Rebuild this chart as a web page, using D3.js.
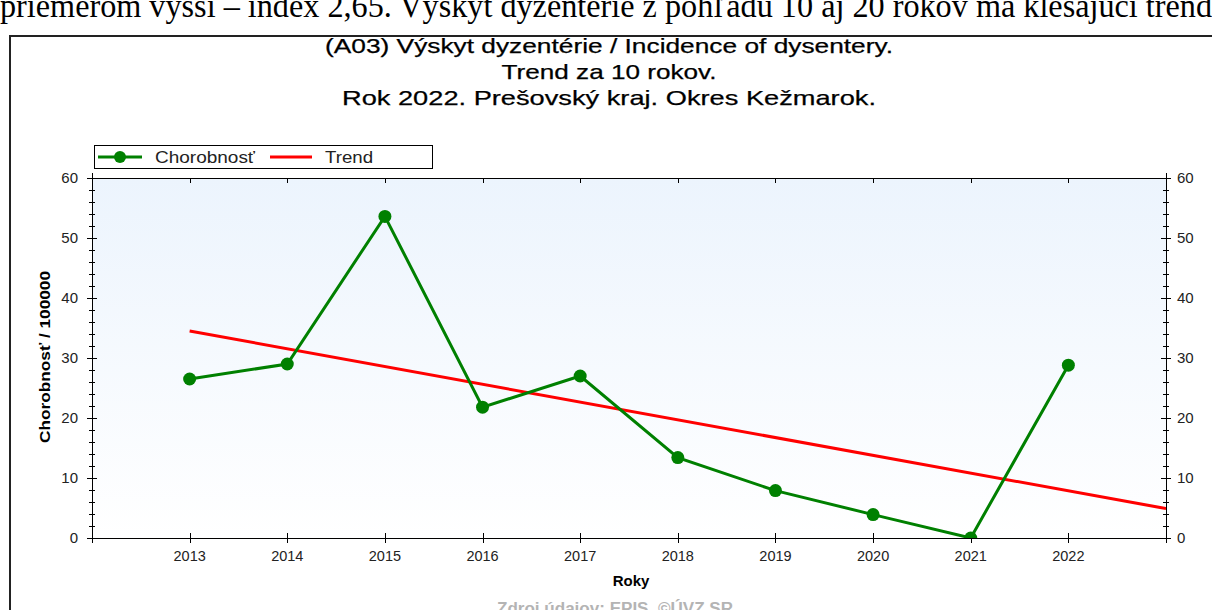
<!DOCTYPE html>
<html><head><meta charset="utf-8">
<script src="https://cdn.jsdelivr.net/npm/d3@7"></script>
<style>
html,body{margin:0;padding:0;background:#fff;overflow:hidden;}
svg{display:block;}
</style></head>
<body>
<script>
const years = [2013, 2014, 2015, 2016, 2017, 2018, 2019, 2020, 2021, 2022];
const incidence = [26.5, 29.0, 53.6, 21.8, 27.0, 13.4, 7.9, 3.9, 0, 28.8];
const trendYears = [2013, 2023];
const trendValues = [34.5, 4.9];
const yTicks = [0, 10, 20, 30, 40, 50, 60];
const titleLines = ["(A03) Výskyt dyzentérie / Incidence of dysentery.", "Trend za 10 rokov.", "Rok 2022. Prešovský kraj. Okres Kežmarok."];
const legendLabels = ["Chorobnosť", "Trend"];

const W = 1212, H = 610;
const svg = d3.select("body").append("svg").attr("width", W).attr("height", H);
const font = "Liberation Sans, Arial, sans-serif";
const titleWidths = [568, 215, 534];

// clipped text of surrounding document
svg.append("text").attr("x", 0).attr("y", 17)
  .attr("font-family", "Liberation Serif, Times New Roman, serif").attr("font-size", 34)
  .attr("textLength", 1212).attr("lengthAdjust", "spacingAndGlyphs")
  .text("priemerom vyšší – index 2,65. Výskyt dyzentérie z pohľadu 10 aj 20 rokov má klesajúci trend");

// frame
svg.append("path").attr("d", "M10,620 L10,36 L1220,36").attr("fill", "none").attr("stroke", "#222").attr("stroke-width", 2);

const L = 92, R = 1166, T = 178, B = 538;
const x = d3.scaleLinear().domain([2012, 2023]).range([L, R]);
const y = d3.scaleLinear().domain([0, 60]).range([B, T]);

const defs = svg.append("defs");
const grad = defs.append("linearGradient").attr("id", "bg").attr("x1", 0).attr("y1", 0).attr("x2", 0).attr("y2", 1);
grad.append("stop").attr("offset", "0%").attr("stop-color", "#ecf4fd");
grad.append("stop").attr("offset", "100%").attr("stop-color", "#ffffff");
defs.append("clipPath").attr("id", "clip").append("rect").attr("x", L).attr("y", T).attr("width", R - L).attr("height", B - T);

svg.append("rect").attr("x", L).attr("y", T).attr("width", R - L).attr("height", B - T).attr("fill", "url(#bg)");

// title
svg.append("g").selectAll("text").data(titleLines).join("text")
  .attr("x", 609).attr("y", (d, i) => 53 + i * 26)
  .attr("text-anchor", "middle").attr("font-family", font).attr("font-size", 21)
  .attr("textLength", (d, i) => titleWidths[i]).attr("lengthAdjust", "spacingAndGlyphs")
  .attr("fill", "#000").attr("stroke", "#000").attr("stroke-width", 0.25).text(d => d);

// axes
const minor = d3.range(0, 61, 2);
const axisG = svg.append("g").attr("stroke", "#000").attr("stroke-width", 1);
// left
axisG.append("line").attr("x1", L + 0.5).attr("x2", L + 0.5).attr("y1", T - 5).attr("y2", B + 5);
axisG.selectAll(".lm").data(minor).join("line")
  .attr("x1", d => yTicks.includes(d) ? L - 5 : L - 3).attr("x2", d => yTicks.includes(d) ? L + 5 : L + 3)
  .attr("y1", d => Math.round(y(d)) + 0.5).attr("y2", d => Math.round(y(d)) + 0.5);
// right
axisG.append("line").attr("x1", R + 0.5).attr("x2", R + 0.5).attr("y1", T - 5).attr("y2", B + 5);
axisG.selectAll(".rm").data(minor).join("line")
  .attr("x1", d => yTicks.includes(d) ? R - 5 : R - 3).attr("x2", d => yTicks.includes(d) ? R + 5 : R + 3)
  .attr("y1", d => Math.round(y(d)) + 0.5).attr("y2", d => Math.round(y(d)) + 0.5);
// bottom
const xt = d3.range(2012, 2024);
axisG.append("line").attr("x1", L - 5).attr("x2", R + 5).attr("y1", B + 0.5).attr("y2", B + 0.5);
axisG.selectAll(".bt").data(xt).join("line")
  .attr("x1", d => Math.round(x(d)) + 0.5).attr("x2", d => Math.round(x(d)) + 0.5)
  .attr("y1", B - 5).attr("y2", B + 5);
// top
axisG.append("line").attr("x1", L - 5).attr("x2", R + 5).attr("y1", T + 0.5).attr("y2", T + 0.5);
axisG.selectAll(".tt").data(xt).join("line")
  .attr("x1", d => Math.round(x(d)) + 0.5).attr("x2", d => Math.round(x(d)) + 0.5)
  .attr("y1", T).attr("y2", T + 5);

// tick labels
svg.append("g").selectAll("text").data(yTicks).join("text")
  .attr("x", L - 14).attr("y", d => y(d) + 5).attr("text-anchor", "end")
  .attr("font-family", font).attr("font-size", 15).attr("fill", "#222").text(d => d);
svg.append("g").selectAll("text").data(yTicks).join("text")
  .attr("x", R + 11).attr("y", d => y(d) + 5).attr("text-anchor", "start")
  .attr("font-family", font).attr("font-size", 15).attr("fill", "#222").text(d => d);
svg.append("g").selectAll("text").data(years).join("text")
  .attr("x", d => x(d)).attr("y", B + 23).attr("text-anchor", "middle")
  .attr("font-family", font).attr("font-size", 14.5).attr("fill", "#222").text(d => d);

// axis titles
svg.append("text").attr("x", 631).attr("y", 586).attr("text-anchor", "middle")
  .attr("font-family", font).attr("font-size", 15).attr("font-weight", "bold").text("Roky");
svg.append("text").attr("transform", "translate(50,357) rotate(-90)").attr("text-anchor", "middle")
  .attr("font-family", font).attr("font-size", 14).attr("font-weight", "bold")
  .attr("textLength", 172).attr("lengthAdjust", "spacingAndGlyphs").text("Chorobnosť / 100000");
svg.append("text").attr("x", 615).attr("y", 614).attr("text-anchor", "middle")
  .attr("font-family", font).attr("font-size", 16).attr("font-weight", "bold").attr("fill", "#b4b4b4")
  .attr("textLength", 236).attr("lengthAdjust", "spacingAndGlyphs")
  .text("Zdroj údajov: EPIS, ©ÚVZ SR");

// series
const plot = svg.append("g").attr("clip-path", "url(#clip)");
const trendData = trendYears.map((d, i) => [d, trendValues[i]]);
plot.append("path").datum(trendData)
  .attr("d", d3.line().x(d => x(d[0])).y(d => y(d[1])))
  .attr("fill", "none").attr("stroke", "#ff0000").attr("stroke-width", 3);
const data = years.map((d, i) => [d, incidence[i]]);
plot.append("path").datum(data)
  .attr("d", d3.line().x(d => x(d[0])).y(d => y(d[1])))
  .attr("fill", "none").attr("stroke", "#008000").attr("stroke-width", 3);
plot.selectAll("circle").data(data).join("circle")
  .attr("cx", d => x(d[0])).attr("cy", d => y(d[1])).attr("r", 6.5).attr("fill", "#008000");

// legend
const lg = svg.append("g");
lg.append("rect").attr("x", 94.5).attr("y", 145.5).attr("width", 338).attr("height", 23)
  .attr("fill", "#fff").attr("stroke", "#000").attr("stroke-width", 1);
lg.append("line").attr("x1", 98).attr("x2", 142).attr("y1", 157).attr("y2", 157).attr("stroke", "#008000").attr("stroke-width", 3);
lg.append("circle").attr("cx", 120).attr("cy", 157).attr("r", 6).attr("fill", "#008000");
lg.append("text").attr("x", 155).attr("y", 163).attr("font-family", font).attr("font-size", 16)
  .attr("textLength", 100).attr("lengthAdjust", "spacingAndGlyphs").attr("fill", "#222").text(legendLabels[0]);
lg.append("line").attr("x1", 270).attr("x2", 312).attr("y1", 157).attr("y2", 157).attr("stroke", "#ff0000").attr("stroke-width", 3);
lg.append("text").attr("x", 325).attr("y", 163).attr("font-family", font).attr("font-size", 16)
  .attr("textLength", 48).attr("lengthAdjust", "spacingAndGlyphs").attr("fill", "#222").text(legendLabels[1]);
</script>
</body></html>
